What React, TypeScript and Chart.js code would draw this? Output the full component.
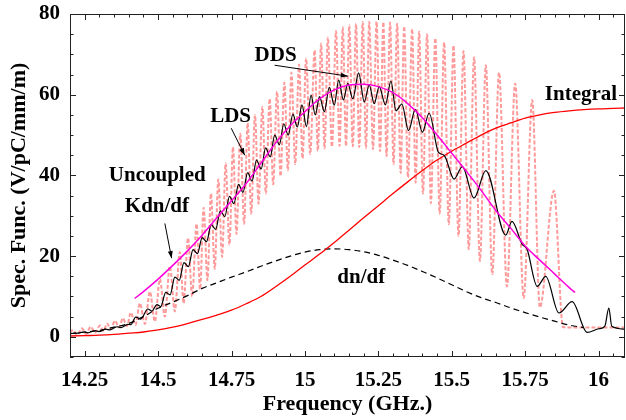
import React, { useEffect, useRef } from "react";
import { Chart, registerables } from "chart.js";
Chart.register(...registerables);

// ---- LDS (pink dashed) ----
const ldsFreq = [14.200, 14.210, 14.224, 14.241, 14.254, 14.271, 14.285, 14.302, 14.314, 14.326, 14.339, 14.353, 14.367, 14.380, 14.394, 14.407, 14.423, 14.438, 14.455, 14.472, 14.489, 14.506, 14.523, 14.540, 14.557, 14.574, 14.587, 14.602, 14.616, 14.631, 14.643, 14.655, 14.668, 14.680, 14.693, 14.705, 14.718, 14.730, 14.743, 14.755, 14.767, 14.780, 14.793, 14.805, 14.817, 14.830, 14.842, 14.855, 14.867, 14.880, 14.892, 14.905, 14.917, 14.930, 14.942, 14.954, 14.967, 14.980, 14.992, 15.004, 15.018, 15.033, 15.044, 15.055, 15.067, 15.078, 15.092, 15.106, 15.118, 15.129, 15.140, 15.151, 15.163, 15.174, 15.185, 15.197, 15.208, 15.219, 15.232, 15.244, 15.256, 15.267, 15.278, 15.290, 15.302, 15.314, 15.326, 15.338, 15.351, 15.365, 15.377, 15.389, 15.402, 15.416, 15.429, 15.444, 15.459, 15.474, 15.490, 15.506, 15.523, 15.540, 15.558, 15.576, 15.596, 15.616, 15.638, 15.661, 15.688, 15.716, 15.745, 15.774, 15.800, 15.848, 15.879, 15.916, 15.967, 16.018, 16.089];
const ldsValue = [1.0, 1.7, 0.5, 2.1, 0.7, 2.5, 1.0, 2.8, 1.4, 3.3, 1.9, 4.0, 2.3, 4.6, 2.6, 6.0, 2.9, 8.3, 3.2, 11.2, 3.8, 14.3, 5.0, 17.5, 6.3, 21.0, 8.3, 24.5, 10.0, 28.0, 11.8, 32.0, 14.0, 35.5, 16.8, 39.0, 19.8, 43.0, 22.8, 47.0, 25.5, 50.3, 28.0, 53.0, 30.5, 55.0, 33.0, 57.0, 35.5, 59.0, 37.8, 60.8, 39.8, 63.0, 41.3, 65.5, 42.8, 67.5, 44.2, 69.0, 45.3, 71.0, 46.1, 72.7, 46.7, 74.2, 47.1, 75.8, 47.3, 76.7, 47.3, 77.2, 47.2, 77.6, 47.0, 78.0, 46.8, 78.1, 46.5, 78.1, 46.0, 78.0, 44.8, 77.9, 42.8, 77.6, 40.6, 76.9, 39.5, 76.3, 38.2, 75.6, 35.5, 75.0, 33.1, 74.0, 30.5, 73.0, 27.9, 72.2, 25.0, 70.8, 21.7, 69.3, 18.8, 67.3, 15.5, 65.5, 12.5, 62.8, 9.6, 58.7, 7.3, 36.2, 2.4, 2.3, 2.3, 2.3, 2.3];

// ---- DDS (black solid) ----
const ddsFreq = [14.200, 14.227, 14.248, 14.261, 14.285, 14.299, 14.322, 14.336, 14.360, 14.373, 14.397, 14.407, 14.424, 14.441, 14.465, 14.479, 14.496, 14.509, 14.526, 14.541, 14.557, 14.572, 14.588, 14.603, 14.619, 14.634, 14.650, 14.665, 14.681, 14.696, 14.712, 14.727, 14.743, 14.758, 14.774, 14.789, 14.805, 14.820, 14.835, 14.851, 14.866, 14.882, 14.897, 14.913, 14.928, 14.943, 14.959, 14.974, 14.990, 15.005, 15.021, 15.035, 15.050, 15.066, 15.083, 15.100, 15.115, 15.131, 15.146, 15.163, 15.183, 15.202, 15.219, 15.236, 15.253, 15.274, 15.293, 15.310, 15.330, 15.353, 15.376, 15.400, 15.423, 15.455, 15.474, 15.508, 15.536, 15.576, 15.616, 15.684, 15.705, 15.740, 15.756, 15.791, 15.820, 15.865, 15.910, 15.961, 16.001, 16.021, 16.035, 16.045, 16.089];
const ddsValue = [0.8, 0.9, 1.2, 1.0, 1.5, 1.3, 1.9, 1.7, 2.5, 2.3, 3.1, 3.0, 4.9, 4.4, 6.9, 6.4, 8.0, 7.5, 11.0, 10.4, 14.8, 14.0, 18.4, 17.4, 21.6, 20.6, 24.6, 23.6, 27.8, 26.6, 31.2, 29.8, 34.8, 33.0, 37.8, 35.8, 40.7, 38.6, 43.8, 41.6, 46.8, 44.6, 50.0, 47.6, 52.8, 50.0, 55.2, 52.0, 57.5, 52.1, 59.9, 55.0, 59.5, 55.8, 61.8, 57.4, 63.6, 58.7, 62.8, 59.0, 65.4, 58.2, 62.4, 57.8, 62.0, 57.5, 63.4, 56.0, 57.7, 51.1, 56.4, 50.7, 55.4, 45.7, 45.0, 39.1, 42.2, 34.4, 41.2, 25.2, 28.6, 22.9, 21.8, 12.5, 15.0, 5.9, 8.7, 1.1, 2.0, 2.6, 7.1, 2.6, 1.9];

// ---- Uncoupled Kdn/df (magenta) ----
const kdnFreq = [14.42, 14.45, 14.5, 14.55, 14.6, 14.65, 14.7, 14.75, 14.8, 14.85, 14.9, 14.95, 15.0, 15.05, 15.1, 15.15, 15.2, 15.25, 15.3, 15.35, 15.4, 15.45, 15.5, 15.55, 15.6, 15.65, 15.7, 15.75, 15.8, 15.85, 15.9, 15.92];
const kdnValue = [9.5, 11.2, 14.3, 17.7, 21.3, 25.2, 29.5, 33.7, 38.0, 43.0, 48.0, 52.3, 55.8, 59.0, 61.2, 62.4, 62.6, 62.0, 60.5, 57.8, 54.3, 50.0, 45.5, 41.0, 36.3, 31.3, 27.0, 22.5, 19.0, 15.6, 12.2, 11.0];

// ---- dn/df (black dashed) ----
const dndfFreq = [14.2, 14.25, 14.3, 14.35, 14.4, 14.45, 14.5, 14.55, 14.6, 14.65, 14.7, 14.75, 14.8, 14.85, 14.9, 14.95, 15.0, 15.05, 15.1, 15.15, 15.2, 15.25, 15.3, 15.35, 15.4, 15.45, 15.5, 15.55, 15.6, 15.65, 15.7, 15.75, 15.8, 15.85, 15.9, 15.95];
const dndfValue = [0.8, 1.2, 1.6, 2.4, 3.3, 5.0, 7.1, 8.6, 10.2, 12.0, 13.4, 14.8, 16.1, 17.5, 18.8, 20.0, 21.0, 21.6, 21.8, 21.6, 21.1, 20.2, 19.0, 17.7, 16.2, 14.6, 12.9, 11.2, 9.7, 8.5, 7.2, 6.0, 4.9, 3.9, 2.9, 2.3];

// ---- Integral (red) ----
const intFreq = [14.2, 14.25, 14.3, 14.35, 14.4, 14.45, 14.5, 14.55, 14.6, 14.65, 14.7, 14.75, 14.8, 14.85, 14.9, 14.95, 15.0, 15.05, 15.1, 15.15, 15.2, 15.25, 15.3, 15.35, 15.4, 15.45, 15.5, 15.55, 15.6, 15.65, 15.7, 15.75, 15.8, 15.85, 15.9, 15.95, 16.0, 16.05, 16.09];
const intValue = [0.2, 0.3, 0.4, 0.6, 0.9, 1.2, 1.7, 2.4, 3.3, 4.3, 5.4, 6.6, 8.2, 10.0, 12.4, 15.0, 17.8, 20.5, 23.4, 26.4, 29.5, 32.5, 35.5, 38.4, 41.2, 43.8, 46.0, 48.0, 50.0, 51.7, 53.0, 54.2, 55.0, 55.6, 56.0, 56.3, 56.5, 56.6, 56.7];

// ---- axes ----
const xTickValues = [14.25, 14.5, 14.75, 15, 15.25, 15.5, 15.75, 16];
const xTickLabels = ["14.25", "14.5", "14.75", "15", "15.25", "15.5", "15.75", "16"];
const yTickValues = [0, 20, 40, 60, 80];
const yTickLabels = ["0", "20", "40", "60", "80"];

// ---- annotations (data coordinates) ----
const noteTexts = ["DDS", "LDS", "Uncoupled", "Kdn/df", "dn/df", "Integral"];
const noteFreq = [14.900, 14.747, 14.497, 14.496, 15.192, 15.940];
const noteValue = [69.6, 54.5, 39.9, 32.2, 14.6, 60.1];
const arrowFrom = [[14.897, 67.3], [14.749, 51.7], [14.523, 28.1]];
const arrowTo = [[15.146, 64.6], [14.795, 45.0], [14.546, 19.5]];

const FONT = "Liberation Serif";

function pts(xs: number[], ys: number[]) {
  return xs.map((x, i) => ({ x, y: ys[i] }));
}

export default function App() {
  const ref = useRef<HTMLCanvasElement | null>(null);
  useEffect(() => {
    if (!ref.current) return;
    const framePlugin = {
      id: "frameAndNotes",
      afterDatasetsDraw(chart: any) {
        const ctx = chart.ctx;
        const { left, right, top, bottom } = chart.chartArea;
        const xs = chart.scales.x;
        const ys = chart.scales.y;
        ctx.save();
        ctx.strokeStyle = "#222";
        ctx.lineWidth = 1;
        ctx.strokeRect(left + 0.5, top + 0.5, right - left - 1, bottom - top - 1);
        ctx.beginPath();
        for (let i = 0; i <= 37; i++) {
          const v = 14.2 + i * 0.05;
          const major = xTickValues.some((t) => Math.abs(t - v) < 1e-6);
          const len = major ? 6 : 3.5;
          const px = Math.round(xs.getPixelForValue(v)) + 0.5;
          ctx.moveTo(px, bottom);
          ctx.lineTo(px, bottom - len);
          ctx.moveTo(px, top);
          ctx.lineTo(px, top + len);
        }
        for (let i = -1; i <= 16; i++) {
          const v = i * 5;
          const major = yTickValues.indexOf(v) >= 0;
          const len = major ? 6 : 3.5;
          const py = Math.round(ys.getPixelForValue(v)) + 0.5;
          ctx.moveTo(left, py);
          ctx.lineTo(left + len, py);
          ctx.moveTo(right, py);
          ctx.lineTo(right - len, py);
        }
        ctx.stroke();

        // arrows
        ctx.strokeStyle = "#000";
        ctx.fillStyle = "#000";
        ctx.lineWidth = 1;
        arrowFrom.forEach((f, i) => {
          const t = arrowTo[i];
          const x1 = xs.getPixelForValue(f[0]);
          const y1 = ys.getPixelForValue(f[1]);
          const x2 = xs.getPixelForValue(t[0]);
          const y2 = ys.getPixelForValue(t[1]);
          ctx.beginPath();
          ctx.moveTo(x1, y1);
          ctx.lineTo(x2, y2);
          ctx.stroke();
          const ang = Math.atan2(y2 - y1, x2 - x1);
          const L = 7, W = 2.5;
          ctx.beginPath();
          ctx.moveTo(x2, y2);
          ctx.lineTo(x2 - L * Math.cos(ang) + W * Math.sin(ang), y2 - L * Math.sin(ang) - W * Math.cos(ang));
          ctx.lineTo(x2 - L * Math.cos(ang) - W * Math.sin(ang), y2 - L * Math.sin(ang) + W * Math.cos(ang));
          ctx.closePath();
          ctx.fill();
        });

        // labels
        ctx.font = `bold 21px "${FONT}"`;
        ctx.textAlign = "center";
        ctx.textBaseline = "middle";
        noteTexts.forEach((txt, i) => {
          ctx.fillText(txt, xs.getPixelForValue(noteFreq[i]), ys.getPixelForValue(noteValue[i]));
        });
        ctx.restore();
      },
    };

    const tickFont = { family: FONT, weight: "bold" as const, size: 21 };
    const titleFont = { family: FONT, weight: "bold" as const, size: 22 };

    const chart = new Chart(ref.current, {
      type: "line",
      data: {
        datasets: [
          {
            label: "Kdn/df",
            data: pts(kdnFreq, kdnValue),
            borderColor: "#ff00dd",
            borderWidth: 1.5,
            cubicInterpolationMode: "monotone",
            pointRadius: 0,
            order: 1,
          },
          {
            label: "DDS",
            data: pts(ddsFreq, ddsValue),
            borderColor: "#000000",
            borderWidth: 1.2,
            cubicInterpolationMode: "monotone",
            pointRadius: 0,
            order: 2,
          },
          {
            label: "Integral",
            data: pts(intFreq, intValue),
            borderColor: "#ff0000",
            borderWidth: 1.3,
            cubicInterpolationMode: "monotone",
            pointRadius: 0,
            order: 3,
          },
          {
            label: "dn/df",
            data: pts(dndfFreq, dndfValue),
            borderColor: "#000000",
            borderWidth: 1.2,
            borderDash: [6, 4],
            cubicInterpolationMode: "monotone",
            pointRadius: 0,
            order: 4,
          },
          {
            label: "LDS",
            data: pts(ldsFreq, ldsValue),
            borderColor: "#ff9a9a",
            borderWidth: 2,
            borderDash: [4, 2],
            cubicInterpolationMode: "monotone",
            pointRadius: 0,
            order: 5,
          },
        ],
      },
      options: {
        animation: false,
        responsive: false,
        maintainAspectRatio: false,
        layout: { padding: { top: 14, right: 1, left: 0, bottom: 0 } },
        plugins: { legend: { display: false }, tooltip: { enabled: false } },
        elements: { point: { radius: 0 } },
        scales: {
          x: {
            type: "linear",
            min: 14.2,
            max: 16.09,
            grid: { display: false, drawTicks: false },
            border: { display: false },
            afterBuildTicks: (s: any) => {
              s.ticks = xTickValues.map((v) => ({ value: v }));
            },
            afterFit: (s: any) => {
              s.height = 63;
              s.paddingLeft = 0;
              s.paddingRight = 0;
            },
            ticks: {
              padding: 11,
              font: tickFont,
              color: "#000",
              maxRotation: 0,
              autoSkip: false,
              callback: (_v: any, i: number) => xTickLabels[i],
            },
            title: {
              display: true,
              text: "Frequency (GHz.)",
              font: titleFont,
              color: "#000",
              padding: { top: 0, bottom: 2 },
            },
          },
          y: {
            type: "linear",
            min: -5,
            max: 80,
            grid: { display: false, drawTicks: false },
            border: { display: false },
            afterBuildTicks: (s: any) => {
              s.ticks = yTickValues.map((v) => ({ value: v }));
            },
            afterFit: (s: any) => {
              s.width = 70;
              s.paddingTop = 0;
              s.paddingBottom = 0;
            },
            ticks: {
              padding: 10,
              font: tickFont,
              color: "#000",
              autoSkip: false,
              callback: (_v: any, i: number) => yTickLabels[i],
            },
            title: {
              display: true,
              text: "Spec. Func. (V/pC/mm/m)",
              font: titleFont,
              color: "#000",
              padding: { top: 6, bottom: 0 },
            },
          },
        },
      },
      plugins: [framePlugin],
    } as any);
    return () => chart.destroy();
  }, []);
  return (
    <div style={{ position: "fixed", left: 0, top: 0, width: 626, height: 420, background: "#fff" }}>
      <canvas ref={ref} width={626} height={420} style={{ display: "block" }} />
    </div>
  );
}
